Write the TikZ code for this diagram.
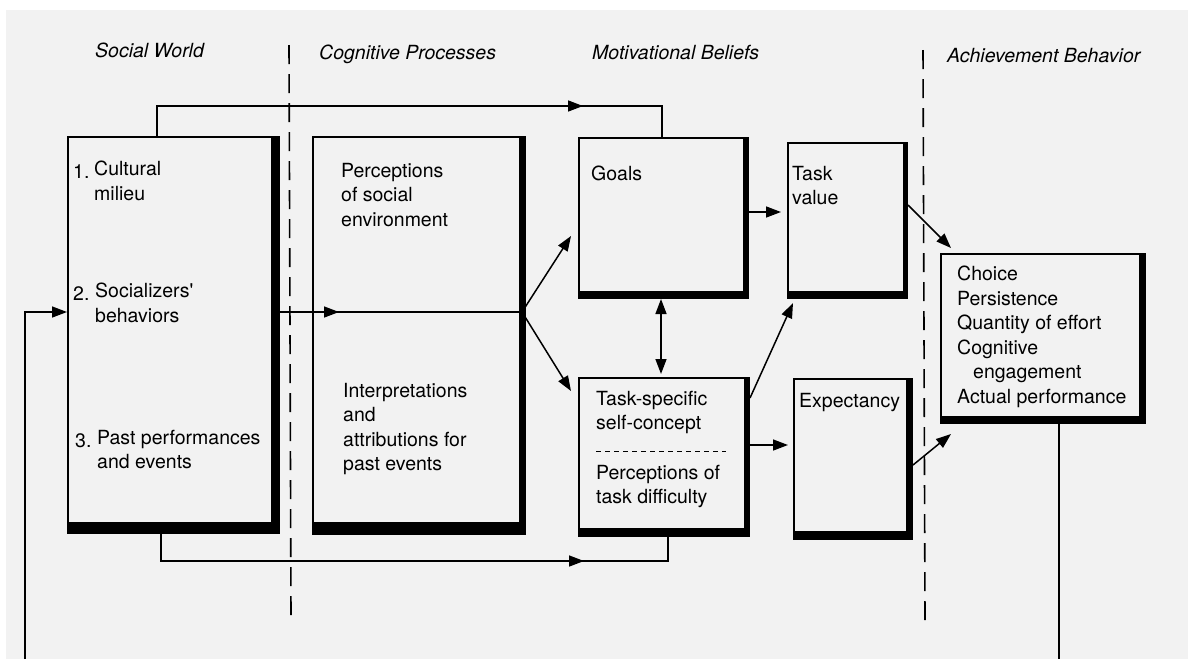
\documentclass[tikz,border=0pt]{standalone}
\usepackage{fontspec}
\setmainfont{TeX Gyre Heros}
\usetikzlibrary{arrows.meta,calc,decorations.markings}

\tikzset{
  tip/.style={-{Triangle[length=15pt,width=11pt]}},
  conn/.style={line width=1.5pt},
  % framed box with a heavy black edge on the right and bottom
  shbox/.style n args={4}{draw, line width=2pt, inner sep=0pt, anchor=north west,
    minimum width=#1, minimum height=#2,
    path picture={
      \fill ([xshift=-#3]path picture bounding box.north east) rectangle (path picture bounding box.south east);
      \fill (path picture bounding box.south west) rectangle ([yshift=#4]path picture bounding box.south east);
    }},
  txt/.style={anchor=north west, inner sep=0pt, yshift=17.15pt, align=left,
    font=\fontsize{19.5}{24.5}\selectfont, execute at begin node=\strut},
  head/.style={anchor=base west, inner sep=0pt, font=\fontsize{19.5}{24.5}\selectfont\itshape},
  divider/.style={line width=1.6pt, dash pattern=on 19pt off 10pt},
  midarrow/.style={postaction={decorate, decoration={markings,
    mark=at position #1 with {\arrow{Triangle[length=15pt,width=11pt]}}}}}
}

\begin{document}
\begin{tikzpicture}[x=1pt, y=-1pt]
\useasboundingbox (0,0) rectangle (1188,659);
\fill[white] (0,0) rectangle (1188,659);
\fill[black!5] (6,10) rectangle (1188,659);

% column headings
\node[head] (hSoc) at (95,57) {Social World};
\node[head] (hCog) at (319,59) {Cognitive Processes};
\node[head] (hMot) at (592,59) {Motivational Beliefs};
\node[head] (hAch) at (947,62) {Achievement Behavior};

% column dividers
\coordinate (d1a) at (289,45);  \coordinate (d1b) at (291,617);
\coordinate (d2a) at (923,50);  \coordinate (d2b) at (925,620);
\draw[divider] (d1a) -- (d1b);
\draw[divider] (d2a) -- (d2b);

% boxes
\node[shbox={211pt}{396pt}{8pt}{11pt}] (soc) at (67,136) {};
\node[shbox={212pt}{397pt}{6pt}{12pt}] (cog) at (312,136) {};
\node[shbox={169pt}{160pt}{5pt}{7pt}] (goals) at (578,137) {};
\node[shbox={170pt}{158pt}{5pt}{8pt}] (ts) at (578,377) {};
\node[shbox={119pt}{155pt}{4.5pt}{7pt}] (tv) at (787,142) {};
\node[shbox={118pt}{160pt}{6pt}{8pt}] (exp) at (793,378) {};
\node[shbox={204pt}{169pt}{6pt}{7pt}] (ach) at (940,253) {};

% social world items
\node[txt] (n1) at (73,178) {1.};
\node[txt] (s1) at (94,178) {Cultural\\milieu};
\node[txt] (n2) at (73,300) {2.};
\node[txt] (s2) at (95,300) {Socializers\textquotesingle\\behaviors};
\node[txt] (n3) at (75,447) {3.};
\node[txt] (s3) at (97,447) {Past performances\\and events};

% cognitive processes
\node[txt] (c1) at (341,180) {Perceptions\\of social\\environment};
\node[txt] (c2) at (343,400) {Interpretations\\and\\attributions for\\past events};

% motivational beliefs
\node[txt] (gT) at (591,180) {Goals};
\node[txt] (tvT) at (792,183) {Task\\value};
\node[txt] (tsT) at (596,408) {Task-specific\\self-concept};
\node[txt] (tdT) at (596,482) {Perceptions of\\task difficulty};
\node[txt] (eT) at (799,407) {Expectancy};
\draw[line width=1pt, dash pattern=on 5pt off 4pt]
  ($(ts.north west)+(18,74)$) -- ($(ts.north west)+(148,74)$);

% achievement behaviour
\node[txt] (aT) at (957,283) {Choice\\Persistence\\Quantity of effort\\Cognitive\\\hspace*{16pt}engagement\\Actual performance};

% connectors
\coordinate (fan) at (522,312);
\coordinate (topL) at (157,106);
\coordinate (topR) at (662,106);
\coordinate (botL) at (161,561);
\coordinate (botR) at (668,561);
\coordinate (fbR) at (1059,659);
\coordinate (fbL) at (25,659);

\draw[conn, midarrow=456pt] (soc.north -| topL) -- (topL) -- (topR) -- (goals.north -| topR);
\draw[conn, midarrow=450pt] (soc.south -| botL) -- (botL) -- (botR) -- (ts.south -| botR);
\draw[conn, midarrow=59pt] (soc.east |- fan) -- (fan);
\draw[conn, tip] (fan) -- ($(goals.west |- 0,236)+(-7,0)$);
\draw[conn, tip] (fan) -- ($(ts.west |- 0,391)+(-7,0)$);
\draw[conn, tip] (goals.east |- 0,212) -- ($(tv.west |- 0,212)+(-6,0)$);
\draw[conn, {Triangle[length=15pt,width=11pt]}-{Triangle[length=15pt,width=11pt]}]
  (goals.south -| 661,0) -- ($(ts.north -| 661,0)+(0,-3)$);
\draw[conn, tip] (ts.east |- 0,398) -- ($(tv.south west)+(6,4)$);
\draw[conn, tip] (ts.east |- 0,445) -- ($(exp.west |- 0,445)+(-5,0)$);
\draw[conn, tip] (tv.east |- 0,205) -- ($(ach.north west)+(11,-5)$);
\draw[conn, tip] (exp.east |- 0,465) -- ($(ach.south west)+(11,10)$);

% feedback loop
\draw[conn] (ach.south -| fbR) -- (fbR);
\draw[conn, tip] (fbL) |- (soc.west |- fan);
\end{tikzpicture}
\end{document}
